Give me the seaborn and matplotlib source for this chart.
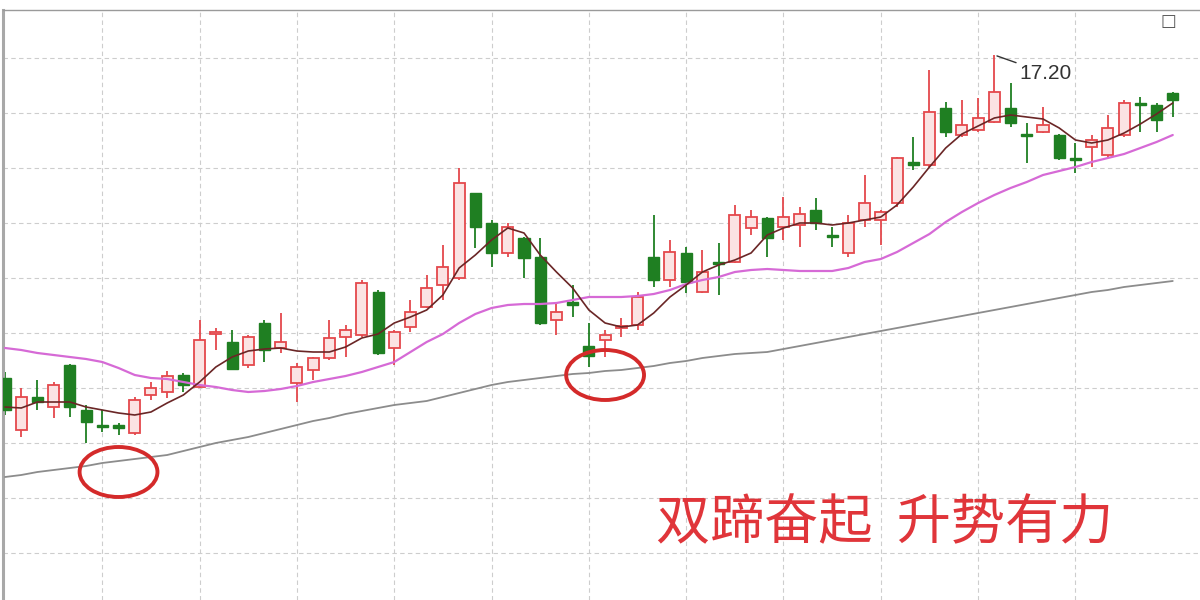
import numpy as np
import pandas as pd
import matplotlib
matplotlib.use("Agg")
import matplotlib.pyplot as plt
import seaborn as sns
from matplotlib.patches import Ellipse

sns.set_style("white")
plt.rcParams['font.family'] = ['Noto Sans CJK SC', 'DejaVu Sans']

# daily OHLC
opens = [13.97, 13.45, 13.78, 13.68, 14.10, 13.65, 13.50, 13.50, 13.42, 13.80,
         13.83, 14.00, 13.88, 14.41, 14.33, 14.10, 14.52, 14.27, 13.92, 14.05,
         14.17, 14.38, 14.40, 14.83, 14.27, 14.48, 14.68, 14.90, 14.97, 15.82,
         15.52, 15.22, 15.37, 15.18, 14.55, 14.73, 14.29, 14.35, 14.47, 14.50,
         15.18, 14.95, 15.22, 14.83, 15.13, 15.13, 15.47, 15.57, 15.48, 15.50,
         15.65, 15.40, 15.22, 15.55, 15.55, 15.72, 16.13, 16.10, 16.67, 16.40,
         16.45, 16.53, 16.67, 16.41, 16.43, 16.40, 16.17, 16.28, 16.20, 16.40,
         16.72, 16.70, 16.82]
highs = [14.03, 13.87, 13.95, 13.93, 14.11, 13.70, 13.65, 13.52, 13.78, 13.93,
         14.04, 14.02, 14.55, 14.47, 14.45, 14.40, 14.55, 14.62, 14.12, 14.18,
         14.55, 14.50, 14.95, 14.85, 14.45, 14.75, 15.00, 15.30, 16.07, 15.82,
         15.55, 15.52, 15.38, 15.37, 14.73, 14.90, 14.52, 14.45, 14.57, 14.83,
         15.60, 15.35, 15.28, 15.25, 15.32, 15.70, 15.65, 15.58, 15.78, 15.68,
         15.77, 15.48, 15.60, 16.00, 15.65, 16.18, 16.38, 17.05, 16.73, 16.75,
         16.77, 17.20, 16.92, 16.52, 16.68, 16.41, 16.32, 16.40, 16.60, 16.75,
         16.78, 16.72, 16.83]
lows = [13.60, 13.38, 13.65, 13.57, 13.58, 13.32, 13.43, 13.40, 13.40, 13.75,
        13.77, 13.83, 13.87, 14.25, 14.05, 14.07, 14.13, 14.22, 13.73, 13.95,
        14.15, 14.18, 14.38, 14.20, 14.10, 14.43, 14.67, 14.75, 14.95, 15.27,
        15.08, 15.18, 14.97, 14.50, 14.40, 14.58, 14.08, 14.18, 14.38, 14.45,
        14.88, 14.88, 14.82, 14.82, 14.80, 15.12, 15.40, 15.18, 15.35, 15.28,
        15.45, 15.28, 15.18, 15.48, 15.30, 15.68, 16.05, 16.08, 16.38, 16.38,
        16.43, 16.52, 16.48, 16.12, 16.42, 16.15, 16.02, 16.08, 16.17, 16.38,
        16.43, 16.43, 16.58]
closes = [13.65, 13.78, 13.73, 13.90, 13.68, 13.53, 13.48, 13.47, 13.75, 13.87,
          13.99, 13.90, 14.35, 14.43, 14.06, 14.38, 14.25, 14.33, 14.08, 14.17,
          14.37, 14.45, 14.92, 14.22, 14.43, 14.63, 14.87, 15.08, 15.92, 15.48,
          15.22, 15.48, 15.17, 14.52, 14.63, 14.70, 14.19, 14.40, 14.49, 14.78,
          14.95, 15.23, 14.93, 15.03, 15.11, 15.60, 15.58, 15.37, 15.58, 15.61,
          15.52, 15.38, 15.52, 15.72, 15.63, 16.17, 16.10, 16.63, 16.43, 16.50,
          16.57, 16.83, 16.52, 16.39, 16.50, 16.17, 16.15, 16.35, 16.47, 16.72,
          16.70, 16.55, 16.75]

# moving average lines
ma_short = [13.68, 13.67, 13.73, 13.73, 13.73, 13.68, 13.65, 13.62, 13.60, 13.63,
            13.72, 13.80, 13.93, 14.08, 14.18, 14.24, 14.26, 14.27, 14.24, 14.23,
            14.23, 14.28, 14.37, 14.41, 14.52, 14.58, 14.65, 14.80, 15.07, 15.20,
            15.35, 15.47, 15.42, 15.20, 15.03, 14.87, 14.65, 14.52, 14.48, 14.50,
            14.62, 14.78, 14.90, 15.03, 15.10, 15.15, 15.22, 15.40, 15.47, 15.52,
            15.52, 15.50, 15.52, 15.55, 15.58, 15.70, 15.88, 16.08, 16.27, 16.41,
            16.49, 16.57, 16.60, 16.58, 16.56, 16.47, 16.35, 16.32, 16.35, 16.42,
            16.51, 16.61, 16.72]
ma_mid = [14.27, 14.25, 14.22, 14.20, 14.18, 14.16, 14.13, 14.07, 14.00, 13.97,
          13.96, 13.93, 13.90, 13.88, 13.85, 13.83, 13.84, 13.86, 13.89, 13.93,
          13.96, 13.99, 14.03, 14.08, 14.13, 14.23, 14.33, 14.41, 14.52, 14.61,
          14.67, 14.70, 14.71, 14.71, 14.72, 14.75, 14.78, 14.78, 14.78, 14.79,
          14.81, 14.85, 14.91, 14.95, 14.98, 15.03, 15.05, 15.06, 15.05, 15.04,
          15.04, 15.04, 15.07, 15.13, 15.16, 15.23, 15.32, 15.41, 15.53, 15.63,
          15.72, 15.80, 15.87, 15.93, 16.00, 16.04, 16.08, 16.13, 16.17, 16.21,
          16.27, 16.33, 16.40]
ma_long = [12.98, 13.00, 13.03, 13.05, 13.07, 13.09, 13.12, 13.14, 13.16, 13.18,
           13.20, 13.24, 13.28, 13.32, 13.35, 13.38, 13.42, 13.46, 13.50, 13.54,
           13.57, 13.61, 13.64, 13.67, 13.70, 13.72, 13.74, 13.78, 13.82, 13.86,
           13.90, 13.93, 13.95, 13.97, 13.99, 14.01, 14.02, 14.04, 14.05, 14.07,
           14.09, 14.12, 14.14, 14.17, 14.19, 14.21, 14.22, 14.23, 14.26, 14.29,
           14.32, 14.35, 14.38, 14.41, 14.44, 14.47, 14.50, 14.53, 14.56, 14.59,
           14.62, 14.65, 14.68, 14.71, 14.74, 14.77, 14.80, 14.83, 14.85, 14.88,
           14.90, 14.92, 14.94]

peak_label = "17.20"
caption = "双蹄奋起  升势有力"
circle_spots = [(7, 13.03), (37, 14.00)]

df = pd.DataFrame({"open": opens, "high": highs, "low": lows, "close": closes,
                   "ma_short": ma_short, "ma_mid": ma_mid, "ma_long": ma_long})
df["day"] = np.arange(len(df))
up = df["close"] >= df["open"]

red_edge = "#e4484c"
red_fill = "#fbe3e3"
green = "#1f7f22"

fig = plt.figure(figsize=(12, 6), dpi=100)
ax = fig.add_axes([3 / 1200, 0, 1197 / 1200, 590 / 600])

# wicks
ax.vlines(df["day"], df["low"], df["high"],
          colors=np.where(up, red_edge, green), linewidth=1.3, zorder=2)
# bodies
body_bottom = df[["open", "close"]].min(axis=1)
body_height = (df["close"] - df["open"]).abs().clip(lower=0.015)
ax.bar(df["day"][up], body_height[up], bottom=body_bottom[up], width=0.68,
       facecolor=red_fill, edgecolor=red_edge, linewidth=1.3, zorder=3)
ax.bar(df["day"][~up], body_height[~up], bottom=body_bottom[~up], width=0.68,
       facecolor=green, edgecolor=green, linewidth=1.0, zorder=3)

# moving averages
sns.lineplot(x="day", y="ma_long", data=df, ax=ax, color="#8c8c8c",
             linewidth=1.3, zorder=4)
sns.lineplot(x="day", y="ma_mid", data=df, ax=ax, color="#d66ad6",
             linewidth=1.6, zorder=4)
sns.lineplot(x="day", y="ma_short", data=df, ax=ax, color="#6a2626",
             linewidth=1.2, zorder=5)

# red circles
for cx, cy in circle_spots:
    ax.add_patch(Ellipse((cx, cy), width=4.8, height=0.50, fill=False,
                         edgecolor="#d42a2a", linewidth=2.8, zorder=6))

# peak label
peak_day = int(df["high"].idxmax())
ax.annotate(peak_label, xy=(peak_day, df["high"].max()),
            xytext=(18, -13), textcoords="offset points",
            ha="left", va="center", fontsize=15, color="#333333",
            family=["Liberation Sans", "DejaVu Sans"],
            arrowprops=dict(arrowstyle="-", color="#333333", lw=1.0,
                            shrinkA=0, shrinkB=2))

ax.set_xlim(-0.123, 73.68)
ax.set_ylim(11.75, 17.65)
ax.set_xticks(np.arange(6, 70, 6))
ax.set_yticks([12.22, 12.77, 13.32, 13.87, 14.42, 14.97, 15.52, 16.07, 16.62, 17.17])
ax.grid(True, color="#cdcdcd", linestyle=(0, (4, 3)), linewidth=0.8)
ax.set_axisbelow(True)
ax.tick_params(length=0, labelleft=False, labelbottom=False)
ax.set_xlabel("")
ax.set_ylabel("")
for side in ["right", "bottom"]:
    ax.spines[side].set_visible(False)
ax.spines["left"].set_color("#a8a8a8")
ax.spines["left"].set_linewidth(2.2)
ax.spines["top"].set_color("#9a9a9a")
ax.spines["top"].set_linewidth(1.0)

fig.text(885 / 1200, 1 - 524 / 600, caption, ha="center", va="center",
         fontsize=39, color="#e0353a", fontweight="light")
fig.text(1168 / 1200, 1 - 21 / 600, "□", ha="center", va="center",
         fontsize=12, color="#555555", family=["DejaVu Sans"])

fig.savefig("out.png", dpi=100)
